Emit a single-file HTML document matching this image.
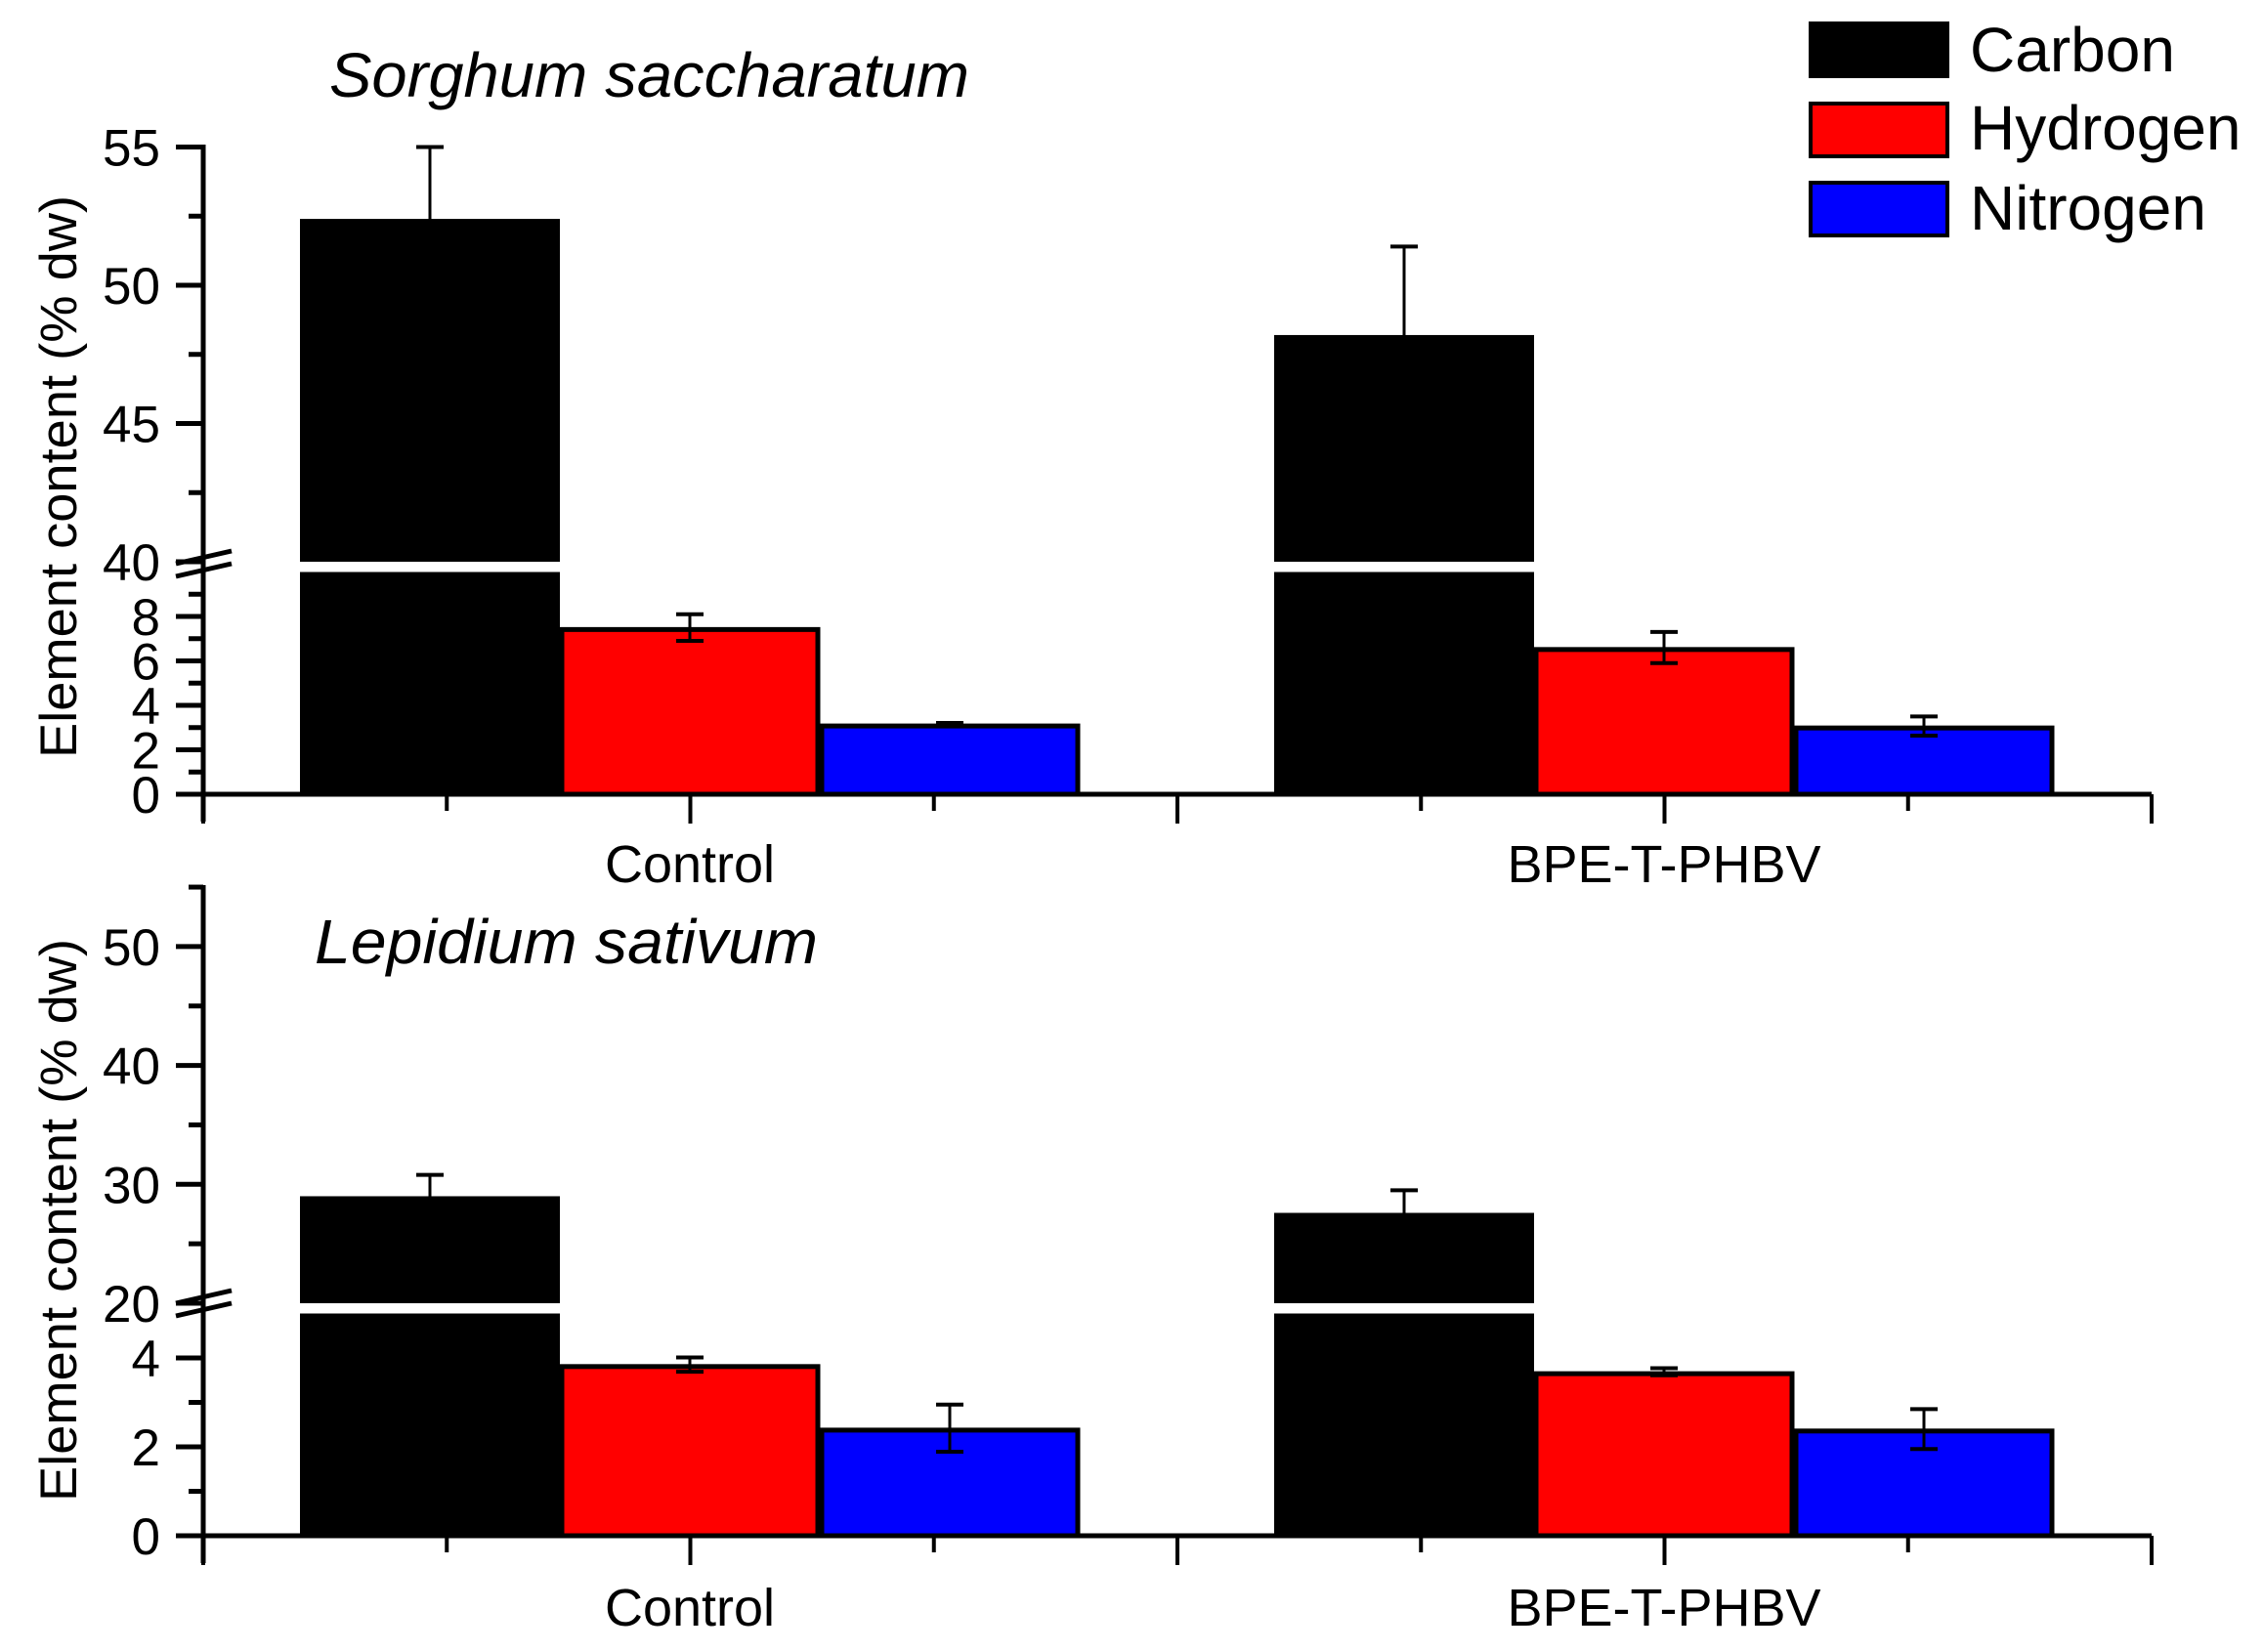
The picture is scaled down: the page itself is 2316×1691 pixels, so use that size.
<!DOCTYPE html>
<html><head><meta charset="utf-8"><style>
html,body{margin:0;padding:0;background:#fff}
svg{display:block}
text{font-family:"Liberation Sans",Arial,sans-serif;fill:#000}
</style></head><body>
<svg id="chart" width="2316" height="1691" viewBox="0 0 2316 1691" xmlns="http://www.w3.org/2000/svg"></svg>
<script>
const categories = ["Control", "BPE-T-PHBV"];
const seriesNames = ["Carbon", "Hydrogen", "Nitrogen"];
const seriesColors = ["#000000", "#ff0000", "#0000ff"];
// Sorghum saccharatum
const sorghumCarbon = [52.4, 48.2];
const sorghumCarbonErr = [2.6, 3.2];
const sorghumHydrogen = [7.5, 6.6];
const sorghumHydrogenErr = [0.6, 0.7];
const sorghumNitrogen = [3.16, 3.07];
const sorghumNitrogenErr = [0.05, 0.43];
// Lepidium sativum
const lepidiumCarbon = [29.0, 27.6];
const lepidiumCarbonErr = [1.8, 1.9];
const lepidiumHydrogen = [3.85, 3.69];
const lepidiumHydrogenErr = [0.16, 0.08];
const lepidiumNitrogen = [2.42, 2.40];
const lepidiumNitrogenErr = [0.53, 0.45];
// tick labels
const sorghumUpperTicks = [40, 45, 50, 55];
const sorghumUpperMinor = [42.5, 47.5, 52.5];
const sorghumLowerTicks = [0, 2, 4, 6, 8];
const sorghumLowerMinor = [1, 3, 5, 7, 9];
const lepidiumUpperTicks = [20, 30, 40, 50];
const lepidiumUpperMinor = [25, 35, 45, 55];
const lepidiumLowerTicks = [0, 2, 4];
const lepidiumLowerMinor = [1, 3];

const NS = "http://www.w3.org/2000/svg";
const svg = document.getElementById("chart");
function mk(tag, attrs, parent) {
  const e = document.createElementNS(NS, tag);
  for (const k in attrs) e.setAttribute(k, attrs[k]);
  (parent || svg).appendChild(e);
  return e;
}

const axisX = 208, axisRight = 2202;
const catCenters = [706, 1703];
const barW = 266;
function xCat(i) { return catCenters[i]; }

const panels = [
  {key: "sorghum", title: "Sorghum saccharatum", titleX: 337, titleY: 99, titleW: 655,
   axTop: 150, zeroY: 813, lowMax: 10, lowPx: 22.75, upMin: 40, upMax: 55, upBaseY: 575, upPx: 28.3,
   upTicks: sorghumUpperTicks, upMinor: sorghumUpperMinor, lowTicks: sorghumLowerTicks, lowMinor: sorghumLowerMinor,
   data: [[sorghumCarbon, sorghumCarbonErr], [sorghumHydrogen, sorghumHydrogenErr], [sorghumNitrogen, sorghumNitrogenErr]],
   breakY: 582, labelY: 903, ylabY: 488},
  {key: "lepidium", title: "Lepidium sativum", titleX: 322, titleY: 986, titleW: 515,
   axTop: 908, zeroY: 1572, lowMax: 5, lowPx: 45.5, upMin: 20, upMax: 55, upBaseY: 1334, upPx: 12.17,
   upTicks: lepidiumUpperTicks, upMinor: lepidiumUpperMinor, lowTicks: lepidiumLowerTicks, lowMinor: lepidiumLowerMinor,
   data: [[lepidiumCarbon, lepidiumCarbonErr], [lepidiumHydrogen, lepidiumHydrogenErr], [lepidiumNitrogen, lepidiumNitrogenErr]],
   breakY: 1339, labelY: 1664, ylabY: 1249}
];

panels.forEach(p => {
  const g = mk("g", {});
  
  
  const yLow = v => p.zeroY - v * p.lowPx;
  const yUp = v => p.upBaseY - (v - p.upMin) * p.upPx;
  const yVal = v => v <= p.lowMax ? yLow(v) : yUp(v);
  const lowTopY = yLow(p.lowMax);

  p.data.forEach((s, si) => {
    const vals = s[0], errs = s[1];
    vals.forEach((v, ci) => {
      const cx = xCat(ci) + (si - 1) * barW;
      const x0 = cx - barW / 2;
      if (v > p.lowMax) {
        const r1 = mk("rect", {x: x0, y: lowTopY, width: barW, height: p.zeroY - lowTopY, fill: seriesColors[si]}, g);
        
        
        const yt = yUp(v);
        const r2 = mk("rect", {x: x0, y: yt, width: barW, height: p.upBaseY - yt, fill: seriesColors[si]}, g);
        
        
      } else {
        const yt = yLow(v);
        const r = mk("rect", {x: x0 + 2, y: yt + 2, width: barW - 4, height: p.zeroY - yt - 2, fill: seriesColors[si], stroke: "#000", "stroke-width": 5}, g);
        
        
      }
      const eg = mk("g", {stroke: "#000", "stroke-width": 3}, g);
      
      
      const yh = yVal(v + errs[ci]), yl = yVal(v - errs[ci]);
      mk("line", {x1: cx, x2: cx, y1: yh, y2: yl}, eg);
      mk("line", {x1: cx - 14, x2: cx + 14, y1: yh, y2: yh, "stroke-width": 4}, eg);
      if (si > 0) mk("line", {x1: cx - 14, x2: cx + 14, y1: yl, y2: yl, "stroke-width": 4}, eg);
    });
  });

  const ya = mk("g", {stroke: "#000", "stroke-width": 5}, g);
  
  
  mk("line", {x1: axisX, x2: axisX, y1: p.axTop - 2, y2: p.zeroY + 28}, ya);
  p.upTicks.forEach(t => mk("line", {x1: 180, x2: axisX, y1: yUp(t), y2: yUp(t)}, ya));
  p.upMinor.forEach(t => mk("line", {x1: 193, x2: axisX, y1: yUp(t), y2: yUp(t)}, ya));
  p.lowTicks.forEach(t => mk("line", {x1: 180, x2: axisX, y1: yLow(t), y2: yLow(t)}, ya));
  p.lowMinor.forEach(t => mk("line", {x1: 193, x2: axisX, y1: yLow(t), y2: yLow(t)}, ya));
  const br = mk("g", {stroke: "#000", "stroke-width": 5}, g);
  
  
  mk("line", {x1: 180, y1: p.breakY - 5, x2: 237, y2: p.breakY - 18}, br);
  mk("line", {x1: 180, y1: p.breakY + 8, x2: 237, y2: p.breakY - 5}, br);

  const tl = mk("g", {"font-size": 53, "text-anchor": "end"}, g);
  
  
  p.upTicks.forEach(t => { const e = mk("text", {x: 164, y: yUp(t) + 19}, tl); e.textContent = t; });
  p.lowTicks.forEach(t => { const e = mk("text", {x: 164, y: yLow(t) + 19}, tl); e.textContent = t; });

  const xa = mk("g", {stroke: "#000", "stroke-width": 5}, g);
  
  
  mk("line", {x1: axisX, x2: axisRight, y1: p.zeroY, y2: p.zeroY}, xa);
  const step = (catCenters[1] - catCenters[0]) / 2;
  for (let k = 0; k <= 8; k++) {
    const x = axisX + k * step / 2;
    const major = k % 2 === 0;
    mk("line", {x1: x, x2: x, y1: p.zeroY, y2: p.zeroY + (major ? 30 : 17), "stroke-width": 4}, xa);
  }
  categories.forEach((c, i) => {
    const t = mk("text", {x: xCat(i), y: p.labelY, "font-size": 54, "text-anchor": "middle"}, g);
    
    
    t.textContent = c;
  });

  const tt = mk("text", {x: p.titleX, y: p.titleY, "font-size": 64, "font-style": "italic", textLength: p.titleW, lengthAdjust: "spacingAndGlyphs"}, g);
  
  
  tt.textContent = p.title;

  const yl = mk("text", {x: 0, y: 0, "font-size": 53, "text-anchor": "middle", textLength: 576, lengthAdjust: "spacingAndGlyphs", transform: "translate(78," + p.ylabY + ") rotate(-90)"}, g);
  
  
  yl.textContent = "Element content (% dw)";
});

const lg = mk("g", {});


const legY = [22, 104, 185];
const legBase = [73, 153, 235];
seriesNames.forEach((n, i) => {
  const e = mk("g", {}, lg);
  
  
  mk("rect", {x: 1853, y: legY[i] + 2, width: 140, height: 54, fill: seriesColors[i], stroke: "#000", "stroke-width": 4}, e);
  const t = mk("text", {x: 2016, y: legBase[i], "font-size": 64}, e);
  t.textContent = n;
});
</script>
</body></html>
